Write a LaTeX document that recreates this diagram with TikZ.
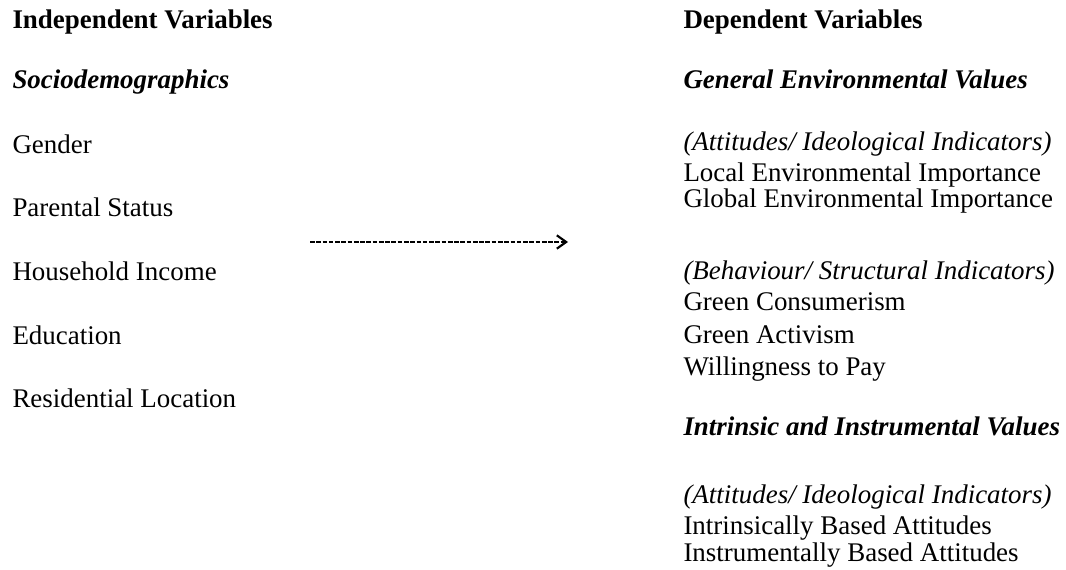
\documentclass[tikz,border=0pt]{standalone}
\usepackage{fontspec}
\setmainfont{Liberation Serif}
\usetikzlibrary{arrows.meta}

\tikzset{every picture/.style={line width=0.75pt}}

\begin{document}
\begin{tikzpicture}[x=0.75pt,y=0.75pt,yscale=-1,xscale=1,
    txt/.style={anchor=base west,inner sep=0.75pt,font=\fontsize{20.2}{24}\selectfont},
    hd/.style={txt,font=\fontsize{20.2}{24}\selectfont\bfseries},
    grp/.style={txt,font=\fontsize{20.2}{24}\selectfont\bfseries\itshape},
    sub/.style={txt,font=\fontsize{20.2}{24}\selectfont\itshape}]
    \useasboundingbox (0,0) rectangle (1066,570);

    % Left column
    \draw (11,29) node [hd] (indep) {Independent Variables};
    \draw (11,89) node [grp] (socio) {Sociodemographics};
    \draw (11,154) node [txt] (gender) {Gender};
    \draw (11,217) node [txt] (parent) {Parental Status};
    \draw (11,280) node [txt] (income) {Household Income};
    \draw (11,344) node [txt] (educ) {Education};
    \draw (11,407) node [txt] (resid) {Residential Location};

    % Right column
    \draw (682,29) node [hd] (dep) {Dependent Variables};
    \draw (682,89) node [grp] (genval) {General Environmental Values};
    \draw (682,151) node [sub] (attA) {(Attitudes/ Ideological Indicators)};
    \draw (682,182) node [txt] (local) {Local Environmental Importance};
    \draw (682,208) node [txt] (global) {Global Environmental Importance};
    \draw (682,279) node [sub] (behav) {(Behaviour/ Structural Indicators)};
    \draw (682,310) node [txt] (consum) {Green Consumerism};
    \draw (682,343) node [txt] (activ) {Green Activism};
    \draw (682,375) node [txt] (wtp) {Willingness to Pay};
    \draw (682,435) node [grp] (intval) {Intrinsic and Instrumental Values};
    \draw (682,503) node [sub] (attB) {(Attitudes/ Ideological Indicators)};
    \draw (682,534) node [txt] (intr) {Intrinsically Based Attitudes};
    \draw (682,561) node [txt] (instr) {Instrumentally Based Attitudes};

    % Arrow
    \coordinate (arrS) at (310,242);
    \coordinate (arrE) at (568,242);
    \draw [line width=2pt,dash pattern=on 3.5pt off 1.2pt,-{Straight Barb[length=7pt,width=10pt,line width=1.6pt]}] (arrS) -- (arrE);

\end{tikzpicture}
\end{document}
